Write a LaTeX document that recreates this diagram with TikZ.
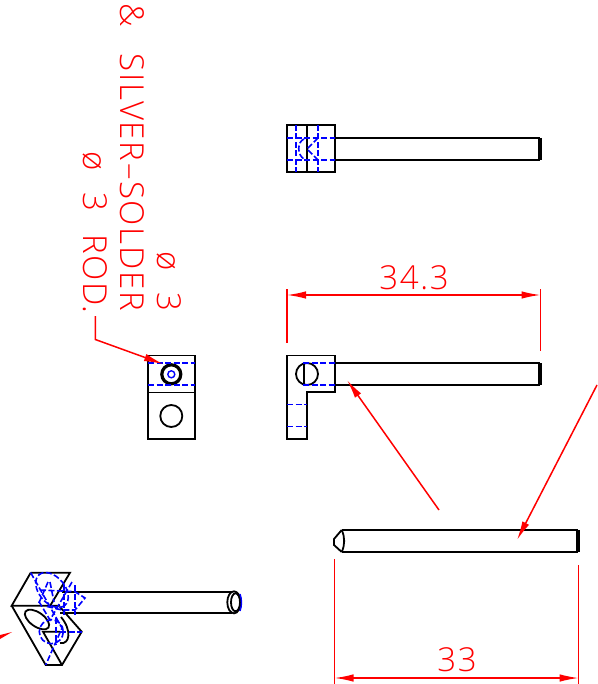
\documentclass[tikz,border=0pt]{standalone}
\usepackage{fontspec}
\usetikzlibrary{arrows.meta}
\newfontfamily\cadfont[LetterSpace=5,WordSpace=2.2]{Open Sans Light}
\tikzset{x=1pt,y=-1pt,
      outline/.style={black,line width=1.8pt},
      heavy/.style={black,line width=3.2pt},
      hidden/.style={blue,line width=1.6pt,dash pattern=on 6pt off 2.5pt},
      dimline/.style={red,line width=1.5pt},
      dimarrow/.style={red,line width=1.5pt,{Latex[length=19pt,width=7.5pt]}-{Latex[length=19pt,width=7.5pt]}},
      leader/.style={red,line width=1.5pt,-{Latex[length=19pt,width=7.5pt]}},
      cadtext/.style={red,font=\cadfont\fontsize{33}{33}\selectfont,inner sep=0pt}}

\begin{document}
\begin{tikzpicture}
          \useasboundingbox (0,0) rectangle (597,684);

          % top view
          \draw[outline] (287,125) rectangle (335,172);
          \draw[outline] (307,125) -- (307,172);
          \draw[outline] (335,138) -- (540,138);
          \draw[outline] (335,160) -- (540,160);
          \draw[heavy] (540,138) -- (540,160);
          \draw[hidden] (287,138) -- (335,138);
          \draw[hidden] (287,160) -- (335,160);
          \draw[hidden] (296,125) -- (296,172);
          \draw[hidden] (318,125) -- (318,172);
          \draw[hidden] (304,139) .. controls (297,142) and (297,155) .. (304,159);
          \draw[hidden] (318,138) -- (307,149) -- (318,160);

          % front view
          \draw[outline] (287,355.5) -- (335,355.5) -- (335,392) -- (307,392) -- (307,439) -- (287,439) -- cycle;
          \draw[outline] (335,363) -- (540,363);
          \draw[outline] (335,385) -- (540,385);
          \draw[heavy] (540,363) -- (540,385);
          \draw[outline] (307,374) circle (11);
          \draw[outline] (304,363) -- (304,385);
          \draw[hidden] (303,363) -- (335,363);
          \draw[hidden] (303,385) -- (335,385);
          \draw[hidden] (287,404.5) -- (307,404.5);
          \draw[hidden] (287,426.5) -- (307,426.5);

          % side view
          \draw[outline] (148,355.5) rectangle (195,439);
          \draw[outline] (148,392.5) -- (195,392.5);
          \draw[heavy] (171.3,374.3) circle (9.5);
          \draw[outline] (171.3,416) circle (11);
          \draw[hidden] (148,363) -- (195,363);
          \draw[hidden] (148,385) -- (195,385);
          \draw[blue,line width=1.4pt] (171.3,374.3) circle (3.5);

          % rod
          \draw[outline] (341.7,530) -- (578,530);
          \draw[outline] (341.7,552) -- (578,552);
          \draw[heavy] (578,530) -- (578,552);
          \draw[outline] (341.7,530) -- (334,539) -- (334,545) -- (341.7,552);
          \draw[outline] (341.7,530) .. controls (345,537) and (345,545) .. (341.7,552);

          % iso view
          \draw[outline] (30.7,572.7) -- (70,572.7) -- (50,606);
          \draw[outline] (30.7,572.7) -- (11.7,605.7) -- (60,605.7);
          \draw[outline] (11.7,605.7) -- (45.7,665) -- (62,665) -- (81.7,631.7) -- (60,607);
          \draw[outline] (62,665) -- (43,631.7) -- (60,631.7);
          \draw[outline] (62,591.7) -- (232,591.7);
          \draw[outline] (60,613) -- (232,613);
          \draw[outline] (234,602.3) ellipse (6.7 and 11);
          \draw[outline] (235.5,602.3) ellipse (4.5 and 9);
          \draw[outline,rotate around={-35:(37,619.5)}] (37,619.5) ellipse (14 and 7);
          \draw[outline] (61,617) .. controls (72,630) and (70,645) .. (60,643);
          \draw[blue,line width=1.4pt] (240,594) .. controls (242,599) and (242,606) .. (240,611);
          \draw[hidden] (30.7,572.7) -- (62,628) -- (45.7,665);
          \draw[hidden] (72,582) -- (50,620) -- (38,600);
          \draw[hidden] (40,590) -- (62,591) -- (75,591.7) -- (85,598) -- (75,610) -- (62,610) -- (45,606);
          \draw[hidden,rotate around={-50:(52,590)}] (52,590) ellipse (20 and 13);
          \draw[hidden] (51.3,631.7) circle (12);
          \draw[hidden] (60,631.7) -- (81.7,631.7);
          \draw[hidden] (64,585) -- (64,615);
          \draw[hidden] (75,585) -- (75,615);
          \draw[hidden] (56,618) -- (56,645);
          \draw[hidden] (48,582) -- (38,605);
          \draw[hidden] (50,582) -- (54,602);

          % labels
          \node[cadtext,rotate=-90,anchor=east] (dia) at (169,312) {ø 3};
          \node[cadtext,rotate=-90,anchor=east] (solder) at (132,311) {SILVER–SOLDER};
          \node[cadtext,rotate=-90,anchor=east] (amp) at (132,27) {\&};
          \node[cadtext,rotate=-90,anchor=east] (rod) at (95,314) {ø 3 ROD.};
          \node[cadtext] (upper) at (414,278) {34.3};
          \node[cadtext] (lower) at (457,660) {33};

          % dimensions
          \draw[dimline] (287,289) -- (287,343);
          \draw[dimline] (540.5,289) -- (540.5,351);
          \draw[dimarrow] (287,295) -- (540.5,295);
          \draw[dimline] (334.5,559) -- (334.5,684);
          \draw[dimline] (578.7,565) -- (578.7,684);
          \draw[dimarrow] (334.5,678) -- (578.7,678);

          % leaders
          \draw[leader] (95.3,316) -- (95.3,339.5) -- (163,364);
          \draw[leader] (439,510) -- (347,380);
          \draw[leader] (597,385) -- (517,540);
          \fill[red] (0,635) -- (12,632) -- (0,639) -- cycle;
       \end{tikzpicture}
\end{document}
